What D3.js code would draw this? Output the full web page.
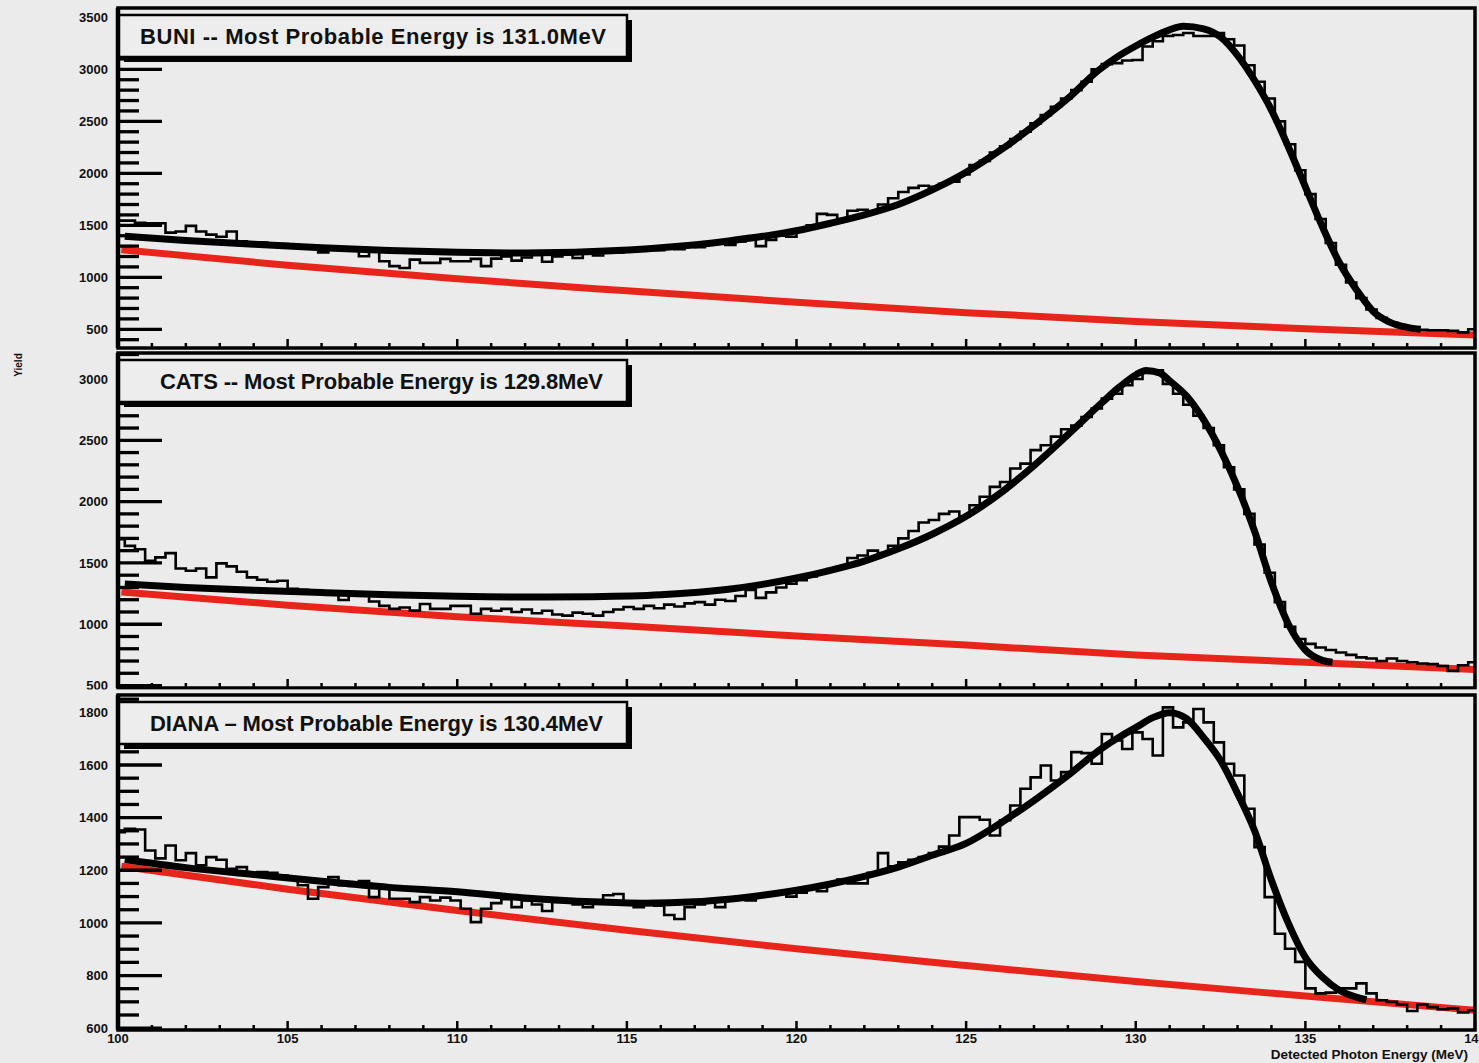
<!DOCTYPE html>
<html>
<head>
<meta charset="utf-8">
<script src="https://cdn.jsdelivr.net/npm/d3@7"></script>
<style>
  body { margin: 0; background: #ebebeb; }
  svg { display: block; }
  text { font-family: "Liberation Sans", Arial, Helvetica, sans-serif; font-weight: bold; }
</style>
</head>
<body>
<svg id="chart"></svg>
<script>
"use strict";

// histogram binning (MeV): bins of 0.3 starting at 99.9
const binStart = 99.9;
const binWidth = 0.3;

const energyTicks = [100, 105, 110, 115, 120, 125, 130, 135, 140];

// ---- BUNI ----
const buniLabel = "BUNI -- Most Probable Energy is 131.0MeV";
const buniTicks = [500, 1000, 1500, 2000, 2500, 3000, 3500];
const buniCounts = [
  1545, 1545, 1525, 1520, 1520, 1430, 1440, 1495, 1440, 1410,
  1390, 1440, 1346, 1337, 1335, 1325, 1320, 1310, 1300, 1290,
  1240, 1285, 1275, 1265, 1202, 1250, 1154, 1107, 1090, 1170,
  1139, 1139, 1177, 1154, 1154, 1177, 1107, 1180, 1200, 1160,
  1190, 1215, 1150, 1200, 1220, 1185, 1230, 1210, 1245, 1240,
  1265, 1255, 1270, 1260, 1285, 1270, 1300, 1290, 1320, 1335,
  1310, 1345, 1370, 1300, 1360, 1400, 1390, 1470, 1500, 1610,
  1600, 1560, 1640, 1650, 1630, 1700, 1760, 1820, 1860, 1880,
  1870, 1900, 1920, 1990, 2080, 2120, 2200, 2260, 2330, 2400,
  2480, 2560, 2640, 2720, 2800, 2880, 3000, 3050, 3060, 3085,
  3090, 3220, 3270, 3320, 3330, 3350, 3320, 3320, 3350, 3290,
  3230, 3040, 2880, 2720, 2500, 2280, 2030, 1800, 1560, 1330,
  1120, 950, 800, 690, 610, 560, 525, 505, 495, 490,
  490, 485, 470, 500
];
const buniFit = [
  [100.2, 1395], [102, 1355], [104, 1318], [106, 1285], [108, 1258], [110, 1240],
  [112, 1234], [114, 1248], [116, 1285], [118, 1350], [120, 1448], [121, 1520],
  [122, 1600], [123, 1700], [124, 1840], [125, 2010], [126, 2220], [127, 2460],
  [128, 2720], [128.9, 2990], [129.5, 3130], [130, 3225], [130.5, 3310], [131, 3380],
  [131.4, 3415], [132, 3390], [132.5, 3311], [133, 3135], [133.5, 2895], [134, 2608],
  [134.5, 2253], [135, 1870], [135.5, 1487], [136, 1142], [136.5, 883], [137, 672],
  [137.5, 567], [138, 519], [138.4, 500]
];
const buniBkg = [
  [100.1, 1266], [105, 1115], [110, 985], [115, 870], [120, 760],
  [125, 660], [130, 575], [135, 505], [140, 445]
];

// ---- CATS ----
const catsLabel = "CATS -- Most Probable Energy is 129.8MeV";
const catsTicks = [500, 1000, 1500, 2000, 2500, 3000];
const catsCounts = [
  1694, 1639, 1612, 1517, 1545, 1580, 1455, 1436, 1455, 1382,
  1496, 1472, 1428, 1382, 1363, 1347, 1355, 1290, 1280, 1275,
  1265, 1255, 1198, 1240, 1240, 1185, 1150, 1125, 1136, 1111,
  1165, 1125, 1125, 1150, 1150, 1085, 1125, 1110, 1125, 1100,
  1120, 1090, 1110, 1080, 1070, 1095, 1085, 1070, 1100, 1120,
  1140, 1125, 1150, 1130, 1160, 1145, 1170, 1180, 1160, 1200,
  1190, 1230, 1280, 1215, 1260, 1300, 1330, 1360, 1390, 1420,
  1450, 1470, 1540, 1560, 1600, 1580, 1640, 1700, 1760, 1830,
  1850, 1900, 1920, 1880, 1970, 2040, 2120, 2160, 2270, 2310,
  2420, 2460, 2530, 2590, 2620, 2690, 2760, 2840, 2880, 2950,
  3000, 3050, 3070, 2960, 2880, 2790, 2700, 2600, 2460, 2280,
  2100, 1900, 1650, 1420, 1180, 980, 880, 840, 810, 790,
  770, 750, 730, 720, 700, 720, 700, 690, 680, 675,
  660, 620, 665, 690
];
const catsFit = [
  [100.2, 1328], [102, 1300], [104, 1278], [106, 1258], [108, 1240], [110, 1228],
  [112, 1222], [114, 1225], [116, 1240], [118, 1285], [119, 1325], [120, 1377],
  [121, 1440], [122, 1515], [123, 1615], [124, 1734], [125, 1880], [126, 2067],
  [127, 2294], [128, 2546], [129, 2806], [129.5, 2930], [130, 3033], [130.3, 3070],
  [130.7, 3050], [131, 2985], [131.5, 2860], [132, 2668], [132.5, 2420], [133, 2120],
  [133.5, 1760], [134, 1340], [134.5, 1000], [135, 790], [135.5, 705], [135.8, 690]
];
const catsBkg = [
  [100.1, 1263], [105, 1155], [110, 1062], [115, 985], [120, 905],
  [125, 830], [130, 750], [135, 690], [140, 630]
];

// ---- DIANA ----
const dianaLabel = "DIANA \u2013 Most Probable Energy is 130.4MeV";
const dianaTicks = [600, 800, 1000, 1200, 1400, 1600, 1800];
const dianaCounts = [
  1345, 1358, 1355, 1275, 1245, 1294, 1238, 1265, 1219, 1250,
  1240, 1206, 1212, 1181, 1193, 1190, 1180, 1168, 1143, 1092,
  1136, 1174, 1143, 1140, 1159, 1098, 1130, 1092, 1092, 1079,
  1098, 1085, 1096, 1085, 1054, 1003, 1054, 1075, 1090, 1060,
  1085, 1070, 1045, 1080, 1090, 1070, 1060, 1085, 1105, 1110,
  1070, 1060, 1075, 1065, 1030, 1015, 1060, 1070, 1080, 1060,
  1090, 1100, 1085, 1105, 1110, 1120, 1100, 1115, 1130, 1120,
  1150, 1165, 1150, 1150, 1190, 1265, 1215, 1230, 1240, 1250,
  1265, 1290, 1332, 1402, 1402, 1392, 1332, 1390, 1446, 1510,
  1553, 1598, 1541, 1573, 1649, 1645, 1605, 1718, 1693, 1661,
  1724, 1699, 1636, 1819, 1743, 1762, 1813, 1762, 1686, 1605,
  1560, 1434, 1288, 1098, 959, 902, 852, 751, 732, 735,
  751, 751, 770, 732, 706, 700, 690, 665, 690, 680,
  672, 675, 660, 668
];
const dianaFit = [
  [100.2, 1241], [102, 1210], [104, 1184], [106, 1158], [108, 1135], [110, 1118],
  [112, 1095], [114, 1080], [115.5, 1075], [117, 1080], [118, 1090], [119, 1105],
  [120, 1124], [121, 1148], [122, 1177], [123, 1212], [124, 1257], [125, 1302],
  [126, 1378], [127, 1465], [128, 1560], [129, 1663], [129.5, 1705], [130, 1742],
  [130.5, 1780], [131, 1799], [131.5, 1776], [132, 1704], [132.5, 1617], [133, 1492],
  [133.5, 1351], [134, 1162], [134.5, 998], [135, 869], [135.5, 794], [136, 744],
  [136.5, 718], [136.8, 708]
];
const dianaBkg = [
  [100.1, 1215], [105, 1128], [110, 1047], [115, 972], [120, 902],
  [125, 838], [130, 777], [135, 722], [140, 668]
];

// ---- layout ----
const W = 1479, H = 1063;
const BG = "#ebebeb";
const FRAME_L = 118, FRAME_R = 1475;

const panels = [
  { label: buniLabel, labelX: 140, labelW: 466, ticks: buniTicks, counts: buniCounts, fit: buniFit, bkg: buniBkg,
    domain: [320, 3590], minor: 100, top: 8, bottom: 348, padTop: 0, padBottom: 350.5 },
  { label: catsLabel, labelX: 160, labelW: 443, ticks: catsTicks, counts: catsCounts, fit: catsFit, bkg: catsBkg,
    domain: [480, 3212], minor: 100, top: 353, bottom: 688, padTop: 350.5, padBottom: 689.5 },
  { label: dianaLabel, labelX: 150, labelW: 453, ticks: dianaTicks, counts: dianaCounts, fit: dianaFit, bkg: dianaBkg,
    domain: [593, 1866], minor: 50, top: 695, bottom: 1030, padTop: 689.5, padBottom: H }
];

const svg = d3.select("#chart")
    .attr("width", W)
    .attr("height", H);

svg.append("rect")
    .attr("width", W)
    .attr("height", H)
    .attr("fill", BG);

const x = d3.scaleLinear().domain([100, 140]).range([FRAME_L, FRAME_R]);

function drawPanel(p, idx) {
    const y = d3.scaleLinear().domain(p.domain).range([p.bottom, p.top]);
    const pad = svg.append("g");

    // pad background (covers overflow of the pad above)
    pad.append("rect")
        .attr("x", 0).attr("y", p.padTop)
        .attr("width", W).attr("height", p.padBottom - p.padTop)
        .attr("fill", BG);

    const clipId = "clip" + idx;
    svg.append("clipPath").attr("id", clipId)
      .append("rect")
        .attr("x", FRAME_L).attr("y", p.top)
        .attr("width", FRAME_R - FRAME_L).attr("height", p.bottom - p.top);

    const plot = pad.append("g").attr("clip-path", `url(#${clipId})`);

    // background fit (red)
    plot.append("path")
        .datum(p.bkg)
        .attr("fill", "none")
        .attr("stroke", "#e8251b")
        .attr("stroke-width", 7)
        .attr("d", d3.line().x(d => x(d[0])).y(d => y(d[1])).curve(d3.curveMonotoneX));

    // histogram outline
    const steps = p.counts.map((c, k) => [binStart + k * binWidth, c]);
    steps.push([binStart + p.counts.length * binWidth, p.counts[p.counts.length - 1]]);
    plot.append("path")
        .datum(steps)
        .attr("fill", "none")
        .attr("stroke", "#000")
        .attr("stroke-width", 2.6)
        .attr("d", d3.line().x(d => x(d[0])).y(d => y(d[1])).curve(d3.curveStepAfter));

    // total fit (black)
    plot.append("path")
        .datum(p.fit)
        .attr("fill", "none")
        .attr("stroke", "#000")
        .attr("stroke-width", 7)
        .attr("d", d3.line().x(d => x(d[0])).y(d => y(d[1])).curve(d3.curveMonotoneX));

    // frame
    pad.append("rect")
        .attr("x", FRAME_L).attr("y", p.top)
        .attr("width", FRAME_R - FRAME_L).attr("height", p.bottom - p.top)
        .attr("fill", "none")
        .attr("stroke", "#000")
        .attr("stroke-width", 3.5);
    pad.append("line")
        .attr("x1", FRAME_L).attr("x2", FRAME_L)
        .attr("y1", p.top).attr("y2", p.bottom)
        .attr("stroke", "#000")
        .attr("stroke-width", 4.5);

    // y ticks (inside, pointing right)
    const minorVals = d3.range(Math.ceil(p.domain[0] / p.minor) * p.minor, p.domain[1], p.minor)
        .filter(v => !p.ticks.includes(v));
    pad.append("g").selectAll("line.minor")
        .data(minorVals)
        .join("line")
        .attr("x1", FRAME_L).attr("x2", FRAME_L + 21)
        .attr("y1", d => y(d)).attr("y2", d => y(d))
        .attr("stroke", "#000").attr("stroke-width", 3.3);
    pad.append("g").selectAll("line.major")
        .data(p.ticks)
        .join("line")
        .attr("x1", FRAME_L).attr("x2", FRAME_L + 44)
        .attr("y1", d => y(d)).attr("y2", d => y(d))
        .attr("stroke", "#000").attr("stroke-width", 3.3);

    pad.append("g").selectAll("text")
        .data(p.ticks)
        .join("text")
        .attr("x", 108)
        .attr("y", d => y(d))
        .attr("dy", "0.36em")
        .attr("text-anchor", "end")
        .attr("font-size", 13)
        .attr("fill", "#111")
        .text(d => d);

    // x ticks (inside, pointing up)
    const xMinor = d3.range(101, 140, 1).filter(v => !energyTicks.includes(v));
    pad.append("g").selectAll("line")
        .data(xMinor)
        .join("line")
        .attr("x1", d => x(d)).attr("x2", d => x(d))
        .attr("y1", p.bottom).attr("y2", p.bottom - 5)
        .attr("stroke", "#000").attr("stroke-width", 2.5);
    pad.append("g").selectAll("line")
        .data(energyTicks)
        .join("line")
        .attr("x1", d => x(d)).attr("x2", d => x(d))
        .attr("y1", p.bottom).attr("y2", p.bottom - 9)
        .attr("stroke", "#000").attr("stroke-width", 2.5);

    // label box with shadow
    const bx = 119, by = p.top + 7, bw = 508, bh = 42, sh = 5;
    pad.append("rect")
        .attr("x", bx + sh).attr("y", by + sh)
        .attr("width", bw).attr("height", bh)
        .attr("fill", "#000");
    pad.append("rect")
        .attr("x", bx).attr("y", by)
        .attr("width", bw).attr("height", bh)
        .attr("fill", "#ededed")
        .attr("stroke", "#000")
        .attr("stroke-width", 2.5);
    pad.append("text")
        .attr("x", p.labelX)
        .attr("y", by + bh / 2)
        .attr("dy", "0.36em")
        .attr("font-size", 22)
        .attr("textLength", p.labelW)
        .attr("lengthAdjust", "spacing")
        .attr("fill", "#111")
        .text(p.label);

    return y;
}

panels.forEach((p, i) => drawPanel(p, i));

// energy labels under the bottom pad
const last = panels[panels.length - 1];
svg.append("g").selectAll("text")
    .data(energyTicks)
    .join("text")
    .attr("x", d => x(d))
    .attr("y", last.bottom + 13)
    .attr("text-anchor", "middle")
    .attr("font-size", 13)
    .attr("fill", "#111")
    .text(d => d);

svg.append("text")
    .attr("x", 1468)
    .attr("y", 1059)
    .attr("text-anchor", "end")
    .attr("font-size", 13.5)
    .attr("fill", "#111")
    .text("Detected Photon Energy (MeV)");

svg.append("text")
    .attr("transform", "translate(22,365) rotate(-90)")
    .attr("text-anchor", "middle")
    .attr("font-size", 10)
    .attr("fill", "#111")
    .text("Yield");
</script>
</body>
</html>
